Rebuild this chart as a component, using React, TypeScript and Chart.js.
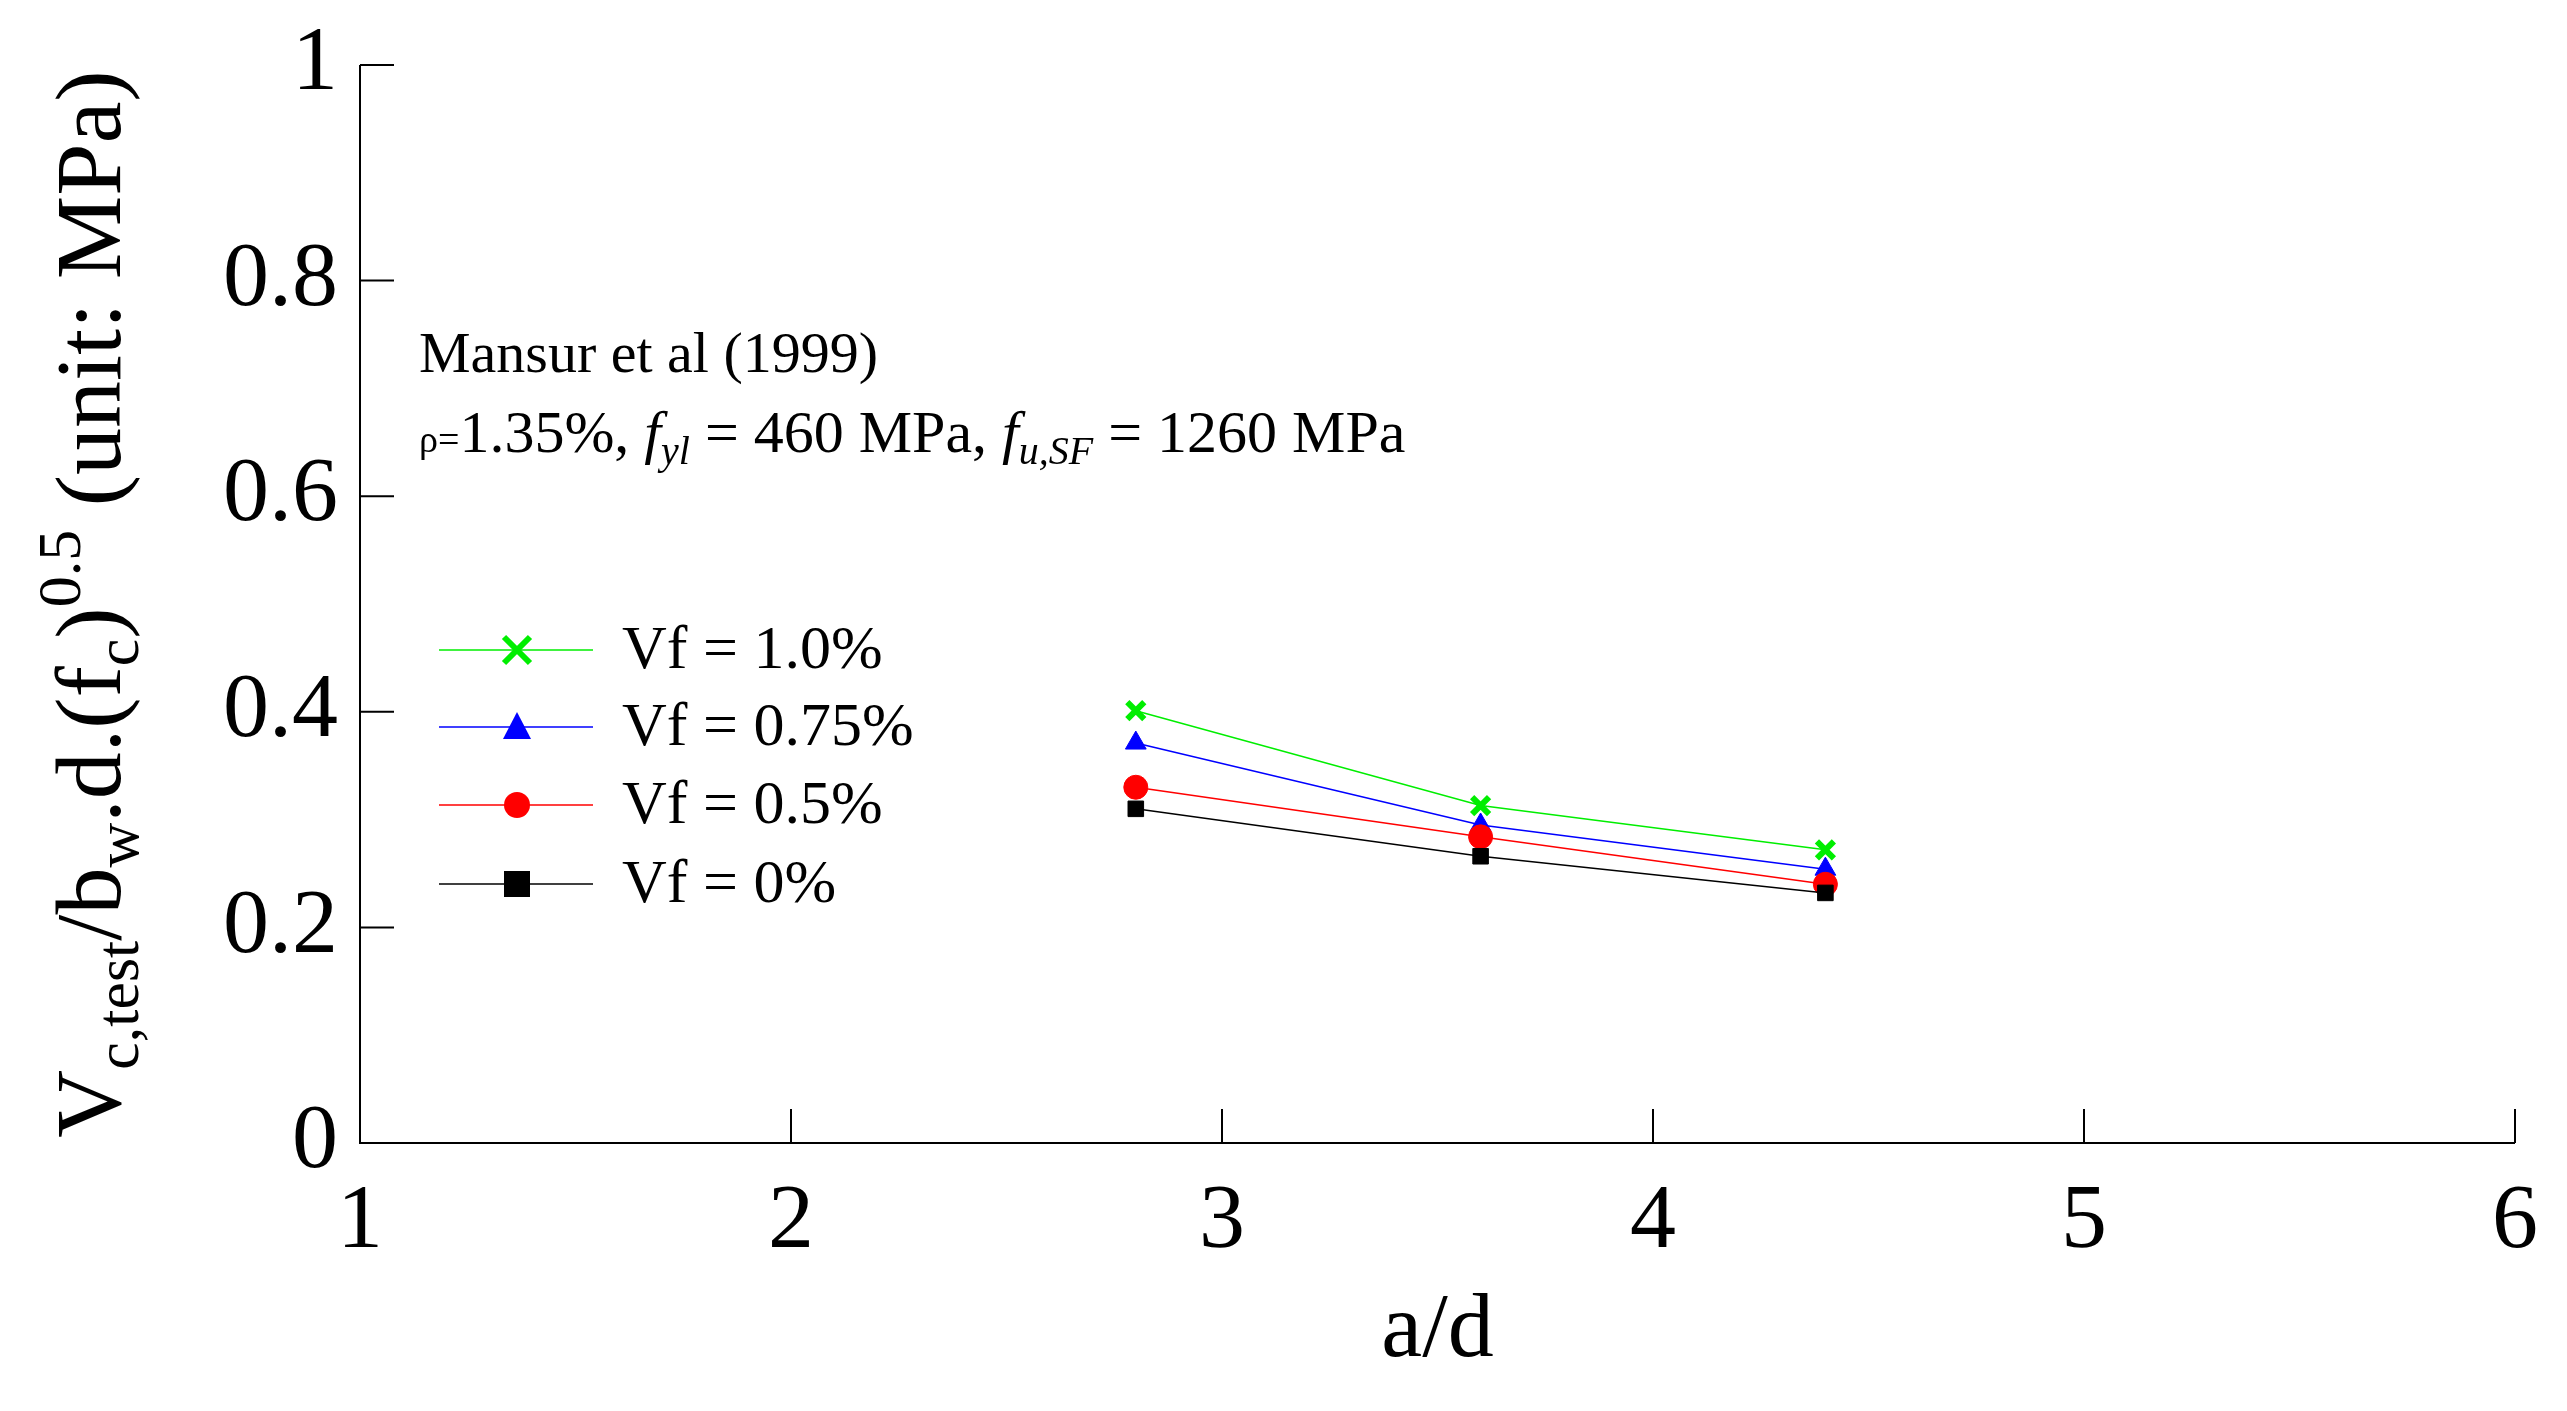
import React, { useEffect, useRef } from "react";
import { Chart, registerables } from "chart.js";
Chart.register(...registerables);

const adRatios = [2.8, 3.6, 4.4];
const vf100 = [0.401, 0.313, 0.272];
const vf075 = [0.371, 0.295, 0.254];
const vf050 = [0.33, 0.284, 0.24];
const vf000 = [0.31, 0.266, 0.232];
const xTicks = [1, 2, 3, 4, 5, 6];
const yTicks = [0, 0.2, 0.4, 0.6, 0.8, 1];
const yTickLabels = ["0", "0.2", "0.4", "0.6", "0.8", "1"];
const seriesNames = ["Vf = 1.0%", "Vf = 0.75%", "Vf = 0.5%", "Vf = 0%"];
const seriesColors = ["#00ee00", "#0000ff", "#ff0000", "#000000"];
const seriesMarkers = ["crossRot", "triangle", "circle", "rect"];

const SERIF = '"Liberation Serif", "Times New Roman", serif';

type Seg = { t: string; size: number; dy?: number; italic?: boolean };
function drawRich(ctx: CanvasRenderingContext2D, segs: Seg[], x: number, y: number, align: "left" | "center") {
  let total = 0;
  for (const s of segs) {
    ctx.font = `${s.italic ? "italic " : ""}${s.size}px ${SERIF}`;
    total += ctx.measureText(s.t).width;
  }
  let cx = align === "center" ? x - total / 2 : x;
  ctx.textAlign = "left";
  ctx.textBaseline = "alphabetic";
  for (const s of segs) {
    ctx.font = `${s.italic ? "italic " : ""}${s.size}px ${SERIF}`;
    ctx.fillText(s.t, cx, y + (s.dy || 0));
    cx += ctx.measureText(s.t).width;
  }
}

function drawMarker(ctx: CanvasRenderingContext2D, kind: string, x: number, y: number, color: string) {
  const r = 13;
  ctx.save();
  ctx.fillStyle = color;
  ctx.strokeStyle = color;
  ctx.beginPath();
  if (kind === "crossRot") {
    ctx.lineWidth = 6;
    ctx.moveTo(x - r, y - r); ctx.lineTo(x + r, y + r);
    ctx.moveTo(x + r, y - r); ctx.lineTo(x - r, y + r);
    ctx.stroke();
  } else if (kind === "triangle") {
    ctx.moveTo(x, y - r - 2); ctx.lineTo(x + r + 1, y + r - 1); ctx.lineTo(x - r - 1, y + r - 1); ctx.closePath(); ctx.fill();
  } else if (kind === "circle") {
    ctx.arc(x, y, r, 0, Math.PI * 2); ctx.fill();
  } else {
    ctx.rect(x - r, y - r, 2 * r, 2 * r); ctx.fill();
  }
  ctx.restore();
}

const decor = {
  id: "decor",
  afterDraw(chart: any) {
    const ctx: CanvasRenderingContext2D = chart.ctx;
    const a = chart.chartArea;
    const xs = chart.scales.x, ys = chart.scales.y;
    ctx.save();
    ctx.strokeStyle = "#000";
    ctx.fillStyle = "#000";
    ctx.lineWidth = 2;
    ctx.beginPath();
    ctx.moveTo(a.left, a.top); ctx.lineTo(a.left, a.bottom); ctx.lineTo(a.right, a.bottom);
    for (const t of xTicks) { const px = xs.getPixelForValue(t); ctx.moveTo(px, a.bottom); ctx.lineTo(px, a.bottom - 34); }
    for (const t of yTicks) { const py = ys.getPixelForValue(t); ctx.moveTo(a.left, py); ctx.lineTo(a.left + 34, py); }
    ctx.stroke();
    ctx.font = `92px ${SERIF}`;
    ctx.textAlign = "center"; ctx.textBaseline = "middle";
    for (const t of xTicks) ctx.fillText(String(t), xs.getPixelForValue(t), a.bottom + 80);
    ctx.textAlign = "right";
    yTicks.forEach((t, i) => ctx.fillText(yTickLabels[i], a.left - 22, ys.getPixelForValue(t)));
    ctx.textAlign = "center";
    ctx.fillText("a/d", (a.left + a.right) / 2, 1332);

    ctx.save();
    ctx.translate(120, (a.top + a.bottom) / 2);
    ctx.rotate(-Math.PI / 2);
    drawRich(ctx, [
      { t: "V", size: 94 }, { t: "c,test", size: 62, dy: 18 }, { t: "/b", size: 94 },
      { t: "w", size: 62, dy: 18 }, { t: ".d.(f", size: 94 }, { t: "c", size: 62, dy: 18 },
      { t: ")", size: 94 }, { t: "0.5", size: 62, dy: -40 }, { t: " (unit: MPa)", size: 94 },
    ], 0, 0, "center");
    ctx.restore();

    drawRich(ctx, [{ t: "Mansur et al (1999)", size: 58 }], 419, 372, "left");
    drawRich(ctx, [
      { t: "ρ=", size: 38 }, { t: "1.35%, ", size: 60 }, { t: "f", size: 60, italic: true },
      { t: "yl", size: 40, italic: true, dy: 12 }, { t: " = 460 MPa, ", size: 60 },
      { t: "f", size: 60, italic: true }, { t: "u,SF", size: 40, italic: true, dy: 12 },
      { t: " = 1260 MPa", size: 60 },
    ], 419, 452, "left");

    const rows = [650, 727, 805, 884];
    rows.forEach((ry, i) => {
      ctx.strokeStyle = seriesColors[i]; ctx.lineWidth = 1.5;
      ctx.beginPath(); ctx.moveTo(439, ry); ctx.lineTo(593, ry); ctx.stroke();
      drawMarker(ctx, seriesMarkers[i], 517, ry, seriesColors[i]);
      ctx.fillStyle = "#000";
      ctx.font = `62px ${SERIF}`; ctx.textAlign = "left"; ctx.textBaseline = "middle";
      ctx.fillText(seriesNames[i], 622, ry + 2);
    });
    ctx.restore();
  },
};

export default function App() {
  const ref = useRef<HTMLCanvasElement>(null);
  useEffect(() => {
    document.body.style.margin = "0";
    const all = [vf100, vf075, vf050, vf000];
    const chart = new Chart(ref.current!, {
      type: "line",
      data: {
        datasets: all.map((vals, i) => ({
          label: seriesNames[i],
          data: adRatios.map((x, j) => ({ x, y: vals[j] })),
          borderColor: seriesColors[i],
          backgroundColor: seriesColors[i],
          borderWidth: 1.5,
          pointStyle: seriesMarkers[i] as any,
          pointRadius: i === 0 ? 12 : i === 3 ? 11 : 12,
          pointBorderWidth: i === 0 ? 6 : 1,
          order: -i,
        })).reverse(),
      },
      options: {
        animation: false,
        responsive: false,
        devicePixelRatio: 1,
        layout: { padding: { left: 360, right: 52, top: 65, bottom: 268 } },
        plugins: { legend: { display: false }, tooltip: { enabled: false } },
        scales: {
          x: { type: "linear", min: 1, max: 6, display: false },
          y: { type: "linear", min: 0, max: 1, display: false },
        },
      },
      plugins: [decor],
    });
    return () => chart.destroy();
  }, []);
  return <canvas ref={ref} width={2567} height={1411} style={{ display: "block", background: "#fff" }} />;
}
